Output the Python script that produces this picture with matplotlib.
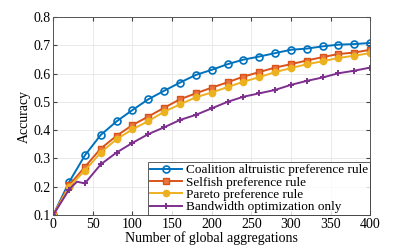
import matplotlib
matplotlib.use("Agg")
import matplotlib.pyplot as plt

BLUE, ORANGE, YELLOW, PURPLE = "#0072BD", "#D95319", "#EDB120", "#7E2F8E"

rounds = [0, 20, 40, 60, 80, 100, 120, 140, 160, 180, 200,
          220, 240, 260, 280, 300, 320, 340, 360, 380, 400]
coalition = [0.100, 0.216, 0.311, 0.383, 0.431, 0.471, 0.509, 0.539, 0.568, 0.595, 0.613,
             0.633, 0.649, 0.660, 0.672, 0.684, 0.688, 0.696, 0.702, 0.704, 0.708]
selfish = [0.100, 0.205, 0.270, 0.335, 0.380, 0.418, 0.448, 0.479, 0.509, 0.530, 0.550,
           0.569, 0.589, 0.605, 0.621, 0.633, 0.646, 0.658, 0.669, 0.674, 0.684]
pareto = [0.100, 0.200, 0.257, 0.321, 0.368, 0.403, 0.432, 0.465, 0.491, 0.516, 0.533,
          0.552, 0.571, 0.587, 0.605, 0.619, 0.633, 0.643, 0.655, 0.663, 0.672]
# bandwidth-only run has one extra sample at round 30 (the little bump)
rounds_bw = [0, 20, 30, 40, 60, 80, 100, 120, 140, 160, 180, 200,
             220, 240, 260, 280, 300, 320, 340, 360, 380, 400]
bandwidth = [0.100, 0.190, 0.218, 0.212, 0.279, 0.321, 0.355, 0.386, 0.410, 0.436, 0.454, 0.477,
             0.500, 0.518, 0.530, 0.542, 0.560, 0.574, 0.586, 0.601, 0.610, 0.621]

labels = ["Coalition altruistic preference rule", "Selfish preference rule",
          "Pareto preference rule", "Bandwidth optimization only"]

plt.rcParams["font.family"] = ["Liberation Serif", "DejaVu Serif"]
plt.rcParams["font.size"] = 10

fig = plt.figure(figsize=(4.09, 2.45), dpi=100)
ax = fig.add_axes([0.13, 0.122, 0.775, 0.809])

ax.plot(rounds, coalition, "-o", color=BLUE, lw=1.4, ms=5, mfc="none", mew=1.2, label=labels[0])
ax.plot(rounds, selfish, "-s", color=ORANGE, lw=1.4, ms=4.5, mfc="#E8743F", label=labels[1])
ax.plot(rounds, pareto, "-o", color=YELLOW, lw=1.4, ms=4.5, label=labels[2])
ax.plot(rounds_bw, bandwidth, "-+", color=PURPLE, lw=1.4, ms=5, mew=1.4,
        markevery=[i for i in range(len(rounds_bw)) if rounds_bw[i] != 30], label=labels[3])

ax.set_xlim(0, 400)
ax.set_ylim(0.1, 0.8)
ax.set_xticks(range(0, 401, 50))
ax.set_yticks([0.1, 0.2, 0.3, 0.4, 0.5, 0.6, 0.7, 0.8])
ax.grid(True, color="#e6e6e6", lw=0.6)
ax.set_axisbelow(True)
ax.tick_params(direction="in", length=3, color="#444444", top=True, right=True, pad=2)
for s in ax.spines.values():
    s.set_color("#555555")
    s.set_linewidth(0.7)
ax.set_xlabel("Number of global aggregations", labelpad=0)
ax.set_ylabel("Accuracy", labelpad=2)

leg = ax.legend(loc="lower right", fontsize=9.5, borderpad=0.15, labelspacing=0.0,
                handlelength=2.4, handletextpad=0.3, borderaxespad=0.0, fancybox=False)
leg.get_frame().set_edgecolor("#333333")
leg.get_frame().set_linewidth(0.7)

fig.savefig("out.png", dpi=100)
